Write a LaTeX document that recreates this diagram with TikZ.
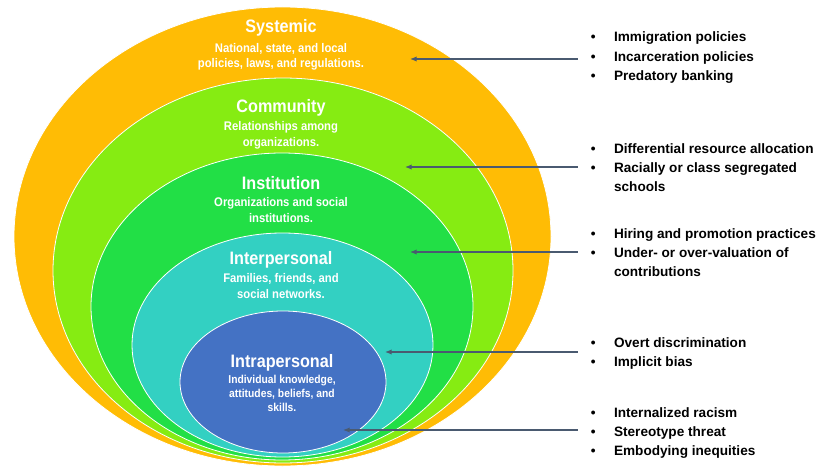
\documentclass[tikz,border=0pt]{standalone}
\usepackage{fontspec}
\setmainfont{Liberation Sans}
\newfontfamily\ringfont[FakeStretch=0.9]{Liberation Sans}
\usepackage{xcolor}
\usepackage{tikz}
\usetikzlibrary{positioning}
\usetikzlibrary{arrows.meta}

\definecolor{sysorange}{HTML}{FFBC05}
\definecolor{comlime}{HTML}{86EC12}
\definecolor{insgreen}{HTML}{22DF46}
\definecolor{perteal}{HTML}{33D0C2}
\definecolor{intblue}{HTML}{4472C4}
\definecolor{slate}{HTML}{4A5A70}

\begin{document}
\begin{tikzpicture}[
    x=0.75pt, y=-0.75pt,% one unit = one pixel, y going down
    ring/.style = {fill=#1, draw=white, line width=0.6pt},% nested layers
    head/.style = {text=white, inner sep=0pt, anchor=base,
                   font=\ringfont\bfseries\fontsize{13.5}{16}\selectfont},% layer name
    desc/.style = {text=white, inner sep=0pt, anchor=base, align=center,
                   font=\ringfont\bfseries\fontsize{9.4}{11.6}\selectfont},% layer text, base = last line
    list/.style = {inner sep=0pt, anchor=base west,
                   font=\bfseries\fontsize{10.2}{14.6}\selectfont},% examples
    pointer/.style = {draw=slate, line width=0.9pt, shorten <=9.4pt,
                      -{Latex[length=5pt,width=4pt]}}% list to layer
    ]
    \useasboundingbox (0,0) rectangle (821,467);
    % layers, outside in
    \filldraw[ring=sysorange] (282.5,236.5) ellipse [x radius=268.5, y radius=229.5];
    \filldraw[ring=comlime]   (283,270.5)   ellipse [x radius=230,   y radius=192.5];
    \filldraw[ring=insgreen]  (282,306.5)   ellipse [x radius=191,   y radius=153.5];
    \filldraw[ring=perteal]   (282.5,345)   ellipse [x radius=150.5, y radius=112];
    \filldraw[ring=intblue]   (283,382)     ellipse [x radius=103,   y radius=71];

    \node (sys) [head] at (281,33) {Systemic};
    \node (sysd) [desc] at ([yshift=-26.25pt]sys.base) {National, state, and local\\policies, laws, and regulations.};
    \node (com) [head] at (281,113) {Community};
    \node (comd) [desc] at ([yshift=-24.75pt]com.base) {Relationships among\\organizations.};
    \node (ins) [head] at (281,189) {Institution};
    \node (insd) [desc] at ([yshift=-24.75pt]ins.base) {Organizations and social\\institutions.};
    \node (per) [head] at (281,264) {Interpersonal};
    \node (perd) [desc] at ([yshift=-25.5pt]per.base) {Families, friends, and\\social networks.};
    \node (int) [head] at (282,367) {Intrapersonal};
    \node (intd) [desc, font=\ringfont\bfseries\fontsize{8.6}{10.5}\selectfont]
        at ([yshift=-33pt]int.base) {Individual knowledge,\\attitudes, beliefs, and\\skills.};

    % examples on the right
    \node (sysl) [list] at (590.5,42) {\begin{tabular}[t]{@{}l@{\hspace{13.9pt}}l@{}}
        \textbullet & Immigration policies\\
        \textbullet & Incarceration policies\\
        \textbullet & Predatory banking
        \end{tabular}};
    \node (coml) [list] at (590.5,153) {\begin{tabular}[t]{@{}l@{\hspace{13.9pt}}l@{}}
        \textbullet & Differential resource allocation\\
        \textbullet & Racially or class segregated\\
                    & schools
        \end{tabular}};
    \node (insl) [list] at (590.5,238) {\begin{tabular}[t]{@{}l@{\hspace{13.9pt}}l@{}}
        \textbullet & Hiring and promotion practices\\
        \textbullet & Under- or over-valuation of\\
                    & contributions
        \end{tabular}};
    \node (perl) [list] at (590.5,347) {\begin{tabular}[t]{@{}l@{\hspace{13.9pt}}l@{}}
        \textbullet & Overt discrimination\\
        \textbullet & Implicit bias
        \end{tabular}};
    \node (intl) [list] at (590.5,417) {\begin{tabular}[t]{@{}l@{\hspace{13.9pt}}l@{}}
        \textbullet & Internalized racism\\
        \textbullet & Stereotype threat\\
        \textbullet & Embodying inequities
        \end{tabular}};

    \coordinate (syst) at (410,59);
    \coordinate (comt) at (405,167);
    \coordinate (inst) at (410,252);
    \coordinate (pert) at (385,352);
    \coordinate (intt) at (343,430);
    \draw[pointer] (sysl.west |- syst) -- (syst);
    \draw[pointer] (coml.west |- comt) -- (comt);
    \draw[pointer] (insl.west |- inst) -- (inst);
    \draw[pointer] (perl.west |- pert) -- (pert);
    \draw[pointer] (intl.west |- intt) -- (intt);
\end{tikzpicture}
\end{document}
